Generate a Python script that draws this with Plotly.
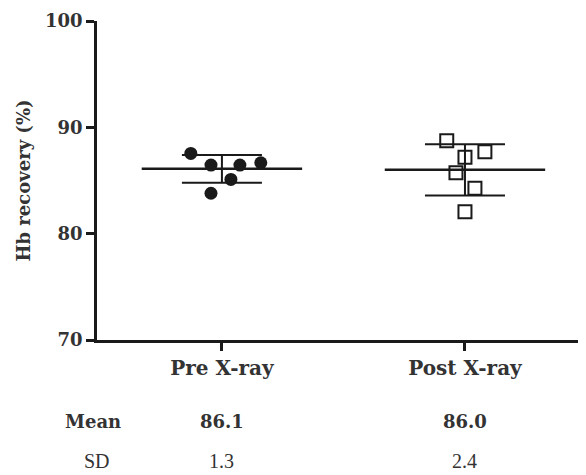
import plotly.graph_objects as go

categories = ["Pre X-ray", "Post X-ray"]
pre_values = [87.55, 86.45, 86.45, 86.67, 85.1, 83.8]
post_values = [88.74, 87.18, 87.7, 85.73, 84.26, 82.06]
pre_jitter = [-0.128, -0.045, 0.074, 0.16, 0.037, -0.045]
post_jitter = [-0.075, 0.0, 0.082, -0.037, 0.041, 0.0]
means = [86.1, 86.0]
sds = [1.3, 2.4]
y_ticks = [70, 80, 90, 100]

SERIF_B = "DejaVu Serif"
INK = "#1a1a1a"
TXT = "#333333"

fig = go.Figure()

# mean lines and SD bars
mean_half = 0.33
for i, (m, s) in enumerate(zip(means, sds)):
    fig.add_trace(go.Scatter(
        x=[i - mean_half, i + mean_half], y=[m, m], mode="lines",
        line=dict(color=INK, width=2.5), showlegend=False, hoverinfo="skip"))
    fig.add_trace(go.Scatter(
        x=[i], y=[m], mode="markers", marker=dict(size=1, color="rgba(0,0,0,0)"),
        error_y=dict(type="data", array=[s], visible=True, color=INK,
                     thickness=2, width=40),
        showlegend=False, hoverinfo="skip"))

fig.add_trace(go.Scatter(
    x=[0 + j for j in pre_jitter], y=pre_values, mode="markers",
    marker=dict(symbol="circle", size=13, color=INK),
    showlegend=False))
fig.add_trace(go.Scatter(
    x=[1 + j for j in post_jitter], y=post_values, mode="markers",
    marker=dict(symbol="square-open", size=13, color=INK, line=dict(width=2, color=INK)),
    showlegend=False))

# summary rows
row_y = {"Mean": -0.254, "SD": -0.378}
common = dict(showarrow=False, xanchor="center", yanchor="middle", yref="paper")
fig.add_annotation(x=-0.008, y=row_y["Mean"], xref="paper", text="<b>Mean</b>",
                   font=dict(family=SERIF_B, size=18, color=TXT), **common)
fig.add_annotation(x=0.0, y=row_y["SD"], xref="paper", text="SD",
                   font=dict(family="Liberation Serif", size=20, color=TXT), **common)
for i, (m, s) in enumerate(zip(means, sds)):
    fig.add_annotation(x=i, y=row_y["Mean"], xref="x", text=f"<b>{m:.1f}</b>",
                       font=dict(family=SERIF_B, size=18, color=TXT), **common)
    fig.add_annotation(x=i, y=row_y["SD"], xref="x", text=f"{s:.1f}",
                       font=dict(family="Liberation Serif", size=20, color=TXT), **common)

fig.update_layout(
    width=578, height=467,
    margin=dict(l=89, r=0, t=13, b=135),
    plot_bgcolor="white", paper_bgcolor="white",
    xaxis=dict(range=[-0.514, 1.498], tickvals=[0, 1], automargin=False,
               ticktext=[f"<b>{c}</b>" for c in categories],
               showgrid=False, zeroline=False, showline=True, linecolor=INK, linewidth=2.5,
               ticks="outside", ticklen=8, tickwidth=2.5, tickcolor=INK,
               tickfont=dict(family=SERIF_B, size=20, color=TXT)),
    yaxis=dict(range=[70, 100], tickvals=y_ticks, automargin=False,
               ticktext=[f"<b>{t}</b>" for t in y_ticks],
               showgrid=False, zeroline=False, showline=True, linecolor=INK, linewidth=2.5,
               ticks="outside", ticklen=8, tickwidth=2.5, tickcolor=INK,
               tickfont=dict(family=SERIF_B, size=18, color=TXT),
               title=dict(text="<b>Hb recovery (%)</b>", standoff=10,
                          font=dict(family=SERIF_B, size=18, color=TXT))),
)

fig.write_html("out.html")
